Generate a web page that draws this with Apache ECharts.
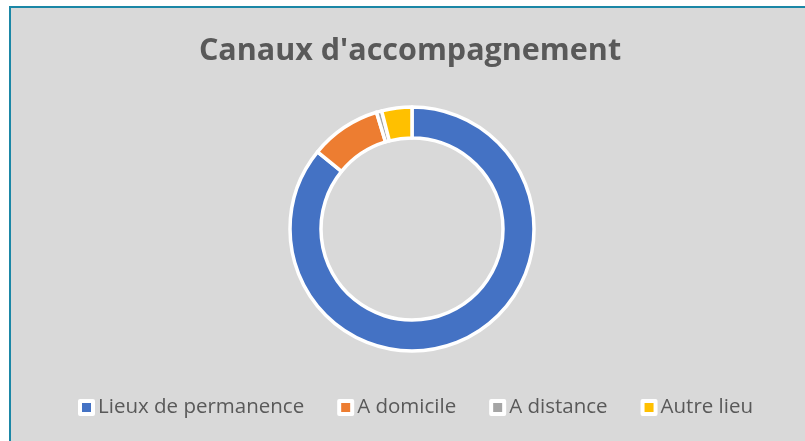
<!DOCTYPE html>
<html>
<head>
<meta charset="utf-8">
<script src="https://cdn.jsdelivr.net/npm/echarts@6/dist/echarts.min.js"></script>
<style>
html,body{margin:0;padding:0;background:#ffffff;width:805px;height:441px;overflow:hidden;}
#frame{position:absolute;left:9px;top:6px;width:796px;height:435px;background:#d9d9d9;border-left:2px solid #1b87a6;border-top:2px solid #1b87a6;}
#chart{position:absolute;left:0;top:0;width:805px;height:441px;}
</style>
</head>
<body>
<div id="frame"></div>
<div id="chart"></div>
<script>
const titleText = "Canaux d'accompagnement";
const categories = ["Lieux de permanence", "A domicile", "A distance", "Autre lieu"];
const values = [85.9, 9.4, 0.7, 4.0];
const colors = ["#4472c4", "#ed7d31", "#a5a5a5", "#ffc000"];

const chart = echarts.init(document.getElementById('chart'), null, {renderer: 'canvas'});
chart.setOption({
  backgroundColor: 'transparent',
  animation: false,
  title: {
    text: titleText,
    left: 405,
    top: 31,
    textAlign: 'center',
    textStyle: {fontFamily: 'Open Sans', fontWeight: 'bold', fontSize: 30.5, color: '#595959'}
  },
  legend: {
    data: categories,
    left: 73,
    top: 392,
    icon: 'rect',
    itemWidth: 13,
    itemHeight: 13,
    itemGap: 33,
    itemStyle: {borderColor: '#ffffff', borderWidth: 4},
    textStyle: {fontFamily: 'Open Sans', fontSize: 20.5, color: '#595959', padding: [0,0,0,0]}
  },
  series: [{
    type: 'pie',
    center: [412, 229],
    radius: [91, 122],
    startAngle: 90,
    clockwise: true,
    avoidLabelOverlap: false,
    label: {show: false},
    labelLine: {show: false},
    emphasis: {disabled: true},
    itemStyle: {borderColor: '#ffffff', borderWidth: 3.5},
    data: categories.map((c, i) => ({name: c, value: values[i], itemStyle: {color: colors[i]}}))
  }]
});
</script>
</body>
</html>
